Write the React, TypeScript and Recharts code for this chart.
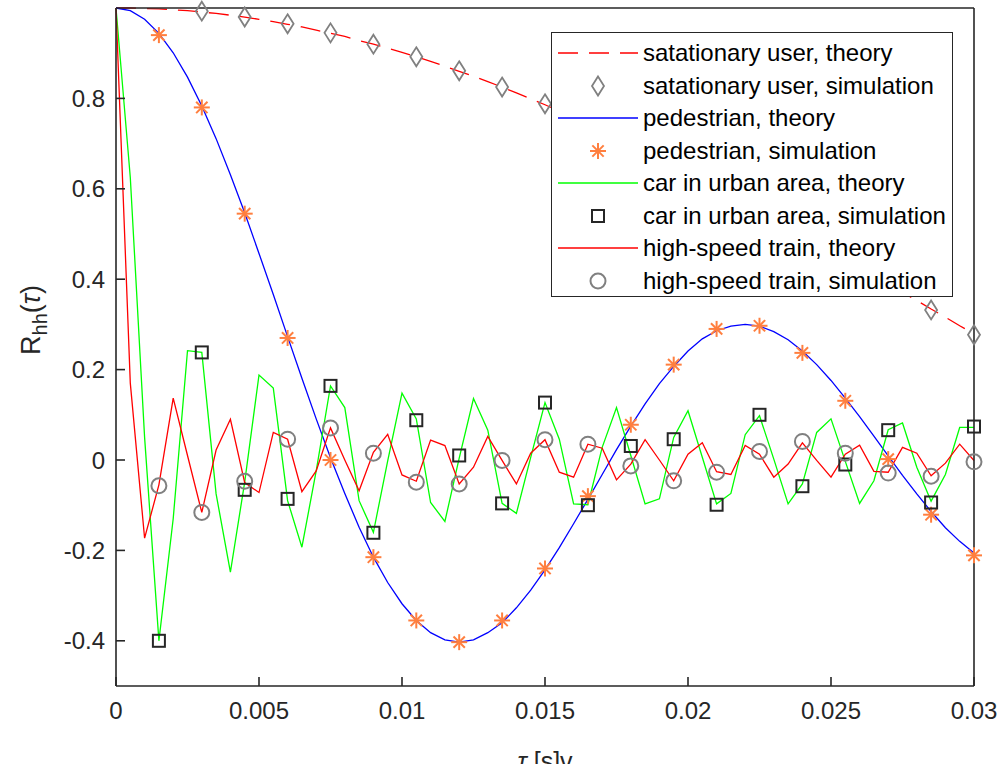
import React from 'react'
import { ComposedChart, Line, Scatter, XAxis, YAxis, Legend } from 'recharts'

// theory curves sampled every 0.5 ms
const tauTheory = [
  0, 0.0005, 0.001, 0.0015, 0.002, 0.0025, 0.003, 0.0035, 0.004, 0.0045,
  0.005, 0.0055, 0.006, 0.0065, 0.007, 0.0075, 0.008, 0.0085, 0.009, 0.0095,
  0.01, 0.0105, 0.011, 0.0115, 0.012, 0.0125, 0.013, 0.0135, 0.014, 0.0145,
  0.015, 0.0155, 0.016, 0.0165, 0.017, 0.0175, 0.018, 0.0185, 0.019, 0.0195,
  0.02, 0.0205, 0.021, 0.0215, 0.022, 0.0225, 0.023, 0.0235, 0.024, 0.0245,
  0.025, 0.0255, 0.026, 0.0265, 0.027, 0.0275, 0.028, 0.0285, 0.029, 0.0295,
  0.03,
]

const stationaryTheory = [
  1, 1, 0.999, 0.998, 0.996, 0.994, 0.991, 0.988, 0.984, 0.98,
  0.975, 0.97, 0.964, 0.958, 0.951, 0.944, 0.937, 0.928, 0.92, 0.911,
  0.902, 0.892, 0.882, 0.871, 0.86, 0.849, 0.837, 0.825, 0.812, 0.799,
  0.786, 0.772, 0.758, 0.744, 0.729, 0.714, 0.699, 0.684, 0.668, 0.652,
  0.636, 0.619, 0.603, 0.586, 0.569, 0.551, 0.534, 0.516, 0.498, 0.481,
  0.463, 0.444, 0.426, 0.408, 0.39, 0.371, 0.353, 0.334, 0.316, 0.297,
  0.279,
]

const pedestrianTheory = [
  1, 0.994, 0.975, 0.944, 0.901, 0.847, 0.783, 0.711, 0.631, 0.547,
  0.457, 0.366, 0.273, 0.181, 0.091, 0.005, -0.074, -0.149, -0.215, -0.271,
  -0.318, -0.355, -0.382, -0.398, -0.403, -0.398, -0.382, -0.36, -0.327, -0.288,
  -0.243, -0.194, -0.141, -0.087, -0.032, 0.023, 0.075, 0.124, 0.169, 0.207,
  0.241, 0.268, 0.286, 0.296, 0.3, 0.296, 0.284, 0.266, 0.241, 0.211,
  0.176, 0.137, 0.096, 0.053, 0.009, -0.034, -0.075, -0.114, -0.15, -0.18,
  -0.206,
]

const carTheory = [
  1, 0.625, 0.05, -0.4, -0.13, 0.242, 0.238, -0.075, -0.248, -0.049,
  0.188, 0.159, -0.09, -0.193, -0.024, 0.164, 0.116, -0.09, -0.16, -0.002,
  0.148, 0.091, -0.094, -0.136, 0.004, 0.136, 0.066, -0.096, -0.118, 0.006,
  0.127, 0.046, -0.097, -0.099, 0.028, 0.116, 0.01, -0.097, -0.086, 0.05,
  0.109, 0.006, -0.097, -0.074, 0.056, 0.098, 0.002, -0.097, -0.053, 0.061,
  0.091, -0.003, -0.096, -0.046, 0.067, 0.082, -0.016, -0.091, -0.032, 0.072,
  0.072,
]

const trainTheory = [
  1, 0.17, -0.173, -0.055, 0.137, 0.01, -0.116, 0.022, 0.09, -0.05,
  -0.072, 0.061, 0.046, -0.07, -0.024, 0.071, 0, -0.068, 0.017, 0.057,
  -0.033, -0.047, 0.044, 0.032, -0.053, -0.016, 0.052, -0.001, -0.053, 0.015,
  0.045, -0.027, -0.038, 0.035, 0.026, -0.044, -0.009, 0.045, 0, -0.046,
  0.013, 0.038, -0.026, -0.032, 0.032, 0.013, -0.038, -0.009, 0.038, -0.001,
  -0.038, 0.013, 0.033, -0.025, -0.027, 0.028, 0.015, -0.035, -0.007, 0.035,
  -0.001,
]

// simulation points every 1.5 ms
const tauSim = [
  0.0015, 0.003, 0.0045, 0.006, 0.0075, 0.009, 0.0105, 0.012, 0.0135, 0.015,
  0.0165, 0.018, 0.0195, 0.021, 0.0225, 0.024, 0.0255, 0.027, 0.0285, 0.03,
]
const stationarySim = [
  null, 0.993, 0.98, 0.965, 0.945, 0.92, 0.892, 0.861, 0.825, 0.788,
  0.744, 0.699, 0.652, 0.603, 0.551, 0.498, 0.444, 0.39, 0.332, 0.277,
]
const pedestrianSim = [
  0.94, 0.78, 0.545, 0.27, 0, -0.215, -0.355, -0.403, -0.355, -0.24,
  -0.08, 0.078, 0.211, 0.29, 0.297, 0.237, 0.131, 0.002, -0.121, -0.211,
]
const carSim = [
  -0.4, 0.238, -0.066, -0.086, 0.164, -0.161, 0.088, 0.01, -0.096, 0.127,
  -0.1, 0.031, 0.046, -0.099, 0.1, -0.058, -0.01, 0.066, -0.094, 0.074,
]
const trainSim = [
  -0.057, -0.116, -0.047, 0.046, 0.071, 0.015, -0.049, -0.053, -0.001, 0.045,
  0.035, -0.013, -0.046, -0.027, 0.019, 0.041, 0.015, -0.029, -0.036, -0.004,
]

const xTicks = [0, 0.005, 0.01, 0.015, 0.02, 0.025, 0.03]
const yTicks = [-0.4, -0.2, 0, 0.2, 0.4, 0.6, 0.8]

const FONT = '"Liberation Sans", Arial, Helvetica, sans-serif'
const AXIS = '#262626'
const ORANGE = '#ff7f3f'
const GREY = '#808080'

const theoryData = tauTheory.map((tau, i) => ({
  tau,
  stationary: stationaryTheory[i],
  pedestrian: pedestrianTheory[i],
  car: carTheory[i],
  train: trainTheory[i],
}))

const simPoints = (values: (number | null)[]) =>
  tauSim
    .map((tau, i) => ({ tau, value: values[i] }))
    .filter((p) => p.value !== null)

// marker shapes (matlab style)
const DiamondMark = ({ cx, cy }: any) => (
  <path
    d={`M${cx},${cy - 9.5}L${cx + 6},${cy}L${cx},${cy + 9.5}L${cx - 6},${cy}Z`}
    fill="none"
    stroke={GREY}
    strokeWidth={1.8}
  />
)

const StarMark = ({ cx, cy }: any) => {
  const r = 8
  const d = r * 0.707
  return (
    <g stroke={ORANGE} strokeWidth={2}>
      <line x1={cx - r} y1={cy} x2={cx + r} y2={cy} />
      <line x1={cx} y1={cy - r} x2={cx} y2={cy + r} />
      <line x1={cx - d} y1={cy - d} x2={cx + d} y2={cy + d} />
      <line x1={cx - d} y1={cy + d} x2={cx + d} y2={cy - d} />
    </g>
  )
}

const SquareMark = ({ cx, cy }: any) => (
  <rect x={cx - 6} y={cy - 6} width={12} height={12} fill="none" stroke={AXIS} strokeWidth={2} />
)

const CircleMark = ({ cx, cy }: any) => (
  <circle cx={cx} cy={cy} r={7.5} fill="none" stroke={GREY} strokeWidth={2} />
)

const legendItems = [
  { label: 'satationary user, theory', kind: 'line', color: '#ff0000', dash: '20 11' },
  { label: 'satationary user, simulation', kind: 'mark', Mark: DiamondMark },
  { label: 'pedestrian, theory', kind: 'line', color: '#0000ff' },
  { label: 'pedestrian, simulation', kind: 'mark', Mark: StarMark },
  { label: 'car in urban area, theory', kind: 'line', color: '#00ff00' },
  { label: 'car in urban area, simulation', kind: 'mark', Mark: SquareMark },
  { label: 'high-speed train, theory', kind: 'line', color: '#ff0000' },
  { label: 'high-speed train, simulation', kind: 'mark', Mark: CircleMark },
]

const renderLegend = () => (
  <div
    style={{
      width: 402,
      height: 265,
      boxSizing: 'border-box',
      border: `1.5px solid ${AXIS}`,
      background: '#fff',
      paddingTop: 4,
    }}
  >
    {legendItems.map((item: any) => (
      <div key={item.label} style={{ display: 'flex', alignItems: 'center', height: 32.5 }}>
        <svg width={91} height={32} style={{ flex: 'none' }}>
          {item.kind === 'line' ? (
            <line
              x1={6}
              y1={16}
              x2={86}
              y2={16}
              stroke={item.color}
              strokeWidth={1.3}
              strokeDasharray={item.dash}
            />
          ) : (
            <item.Mark cx={46} cy={16} />
          )}
        </svg>
        <span style={{ fontFamily: FONT, fontSize: 24, color: '#000', whiteSpace: 'nowrap' }}>
          {item.label}
        </span>
      </div>
    ))}
  </div>
)

const tickStyle = { fill: AXIS, fontSize: 24, fontFamily: FONT }
const lineStyle = { stroke: AXIS, strokeWidth: 1.6 }

export default function App() {
  return (
    <div
      style={{
        position: 'absolute',
        left: 0,
        top: 0,
        width: 1003,
        height: 764,
        overflow: 'hidden',
        background: '#fff',
      }}
    >
      <ComposedChart
        width={1003}
        height={764}
        data={theoryData}
        margin={{ top: 0, right: 0, left: 0, bottom: 0 }}
      >
        <XAxis
          dataKey="tau"
          type="number"
          domain={[0, 0.03]}
          ticks={xTicks}
          height={78}
          tickSize={-9}
          tickMargin={25}
          tick={tickStyle}
          axisLine={lineStyle}
          tickLine={lineStyle}
          tickFormatter={(v) => String(v)}
          label={{
            content: ({ viewBox }: any) => (
              <text
                x={viewBox.x + viewBox.width / 2}
                y={viewBox.y + 84}
                textAnchor="middle"
                fontFamily={FONT}
                fontSize={25}
                fill={AXIS}
              >
                <tspan fontStyle="italic">τ</tspan> [s]v
              </text>
            ),
          }}
        />
        <XAxis
          xAxisId="top"
          orientation="top"
          type="number"
          domain={[0, 0.03]}
          ticks={xTicks}
          height={8}
          tickSize={-9}
          tick={false}
          axisLine={lineStyle}
          tickLine={lineStyle}
        />
        <YAxis
          type="number"
          domain={[-0.5, 1]}
          ticks={yTicks}
          width={116}
          tickSize={-9}
          tickMargin={20}
          tick={tickStyle}
          axisLine={lineStyle}
          tickLine={lineStyle}
          label={{
            content: ({ viewBox }: any) => (
              <text
                transform={`translate(${viewBox.x + 40},${viewBox.y + viewBox.height / 2 - 27}) rotate(-90)`}
                textAnchor="middle"
                fontFamily={FONT}
                fontSize={27}
                fill={AXIS}
              >
                R
                <tspan dy={7} fontSize={20}>
                  hh
                </tspan>
                <tspan dy={-7}>(</tspan>
                <tspan fontStyle="italic">τ</tspan>
                <tspan>)</tspan>
              </text>
            ),
          }}
        />
        <YAxis
          yAxisId="right"
          orientation="right"
          type="number"
          domain={[-0.5, 1]}
          ticks={yTicks}
          width={29}
          tickSize={-9}
          tick={false}
          axisLine={lineStyle}
          tickLine={lineStyle}
        />

        <Line
          dataKey="stationary"
          stroke="#ff0000"
          strokeWidth={1.3}
          strokeDasharray="20 11"
          dot={false}
          type="linear"
          isAnimationActive={false}
        />
        <Scatter
          data={simPoints(stationarySim)}
          dataKey="value"
          shape={DiamondMark}
          isAnimationActive={false}
        />
        <Line
          dataKey="pedestrian"
          stroke="#0000ff"
          strokeWidth={1.3}
          dot={false}
          type="linear"
          isAnimationActive={false}
        />
        <Scatter
          data={simPoints(pedestrianSim)}
          dataKey="value"
          shape={StarMark}
          isAnimationActive={false}
        />
        <Line
          dataKey="car"
          stroke="#00ff00"
          strokeWidth={1.3}
          dot={false}
          type="linear"
          isAnimationActive={false}
        />
        <Scatter
          data={simPoints(carSim)}
          dataKey="value"
          shape={SquareMark}
          isAnimationActive={false}
        />
        <Line
          dataKey="train"
          stroke="#ff0000"
          strokeWidth={1.3}
          dot={false}
          type="linear"
          isAnimationActive={false}
        />
        <Scatter
          data={simPoints(trainSim)}
          dataKey="value"
          shape={CircleMark}
          isAnimationActive={false}
        />

        <Legend
          layout="vertical"
          align="center"
          verticalAlign="middle"
          content={renderLegend}
          wrapperStyle={{ left: 551, top: 32, width: 402, height: 265 }}
        />
      </ComposedChart>
    </div>
  )
}
